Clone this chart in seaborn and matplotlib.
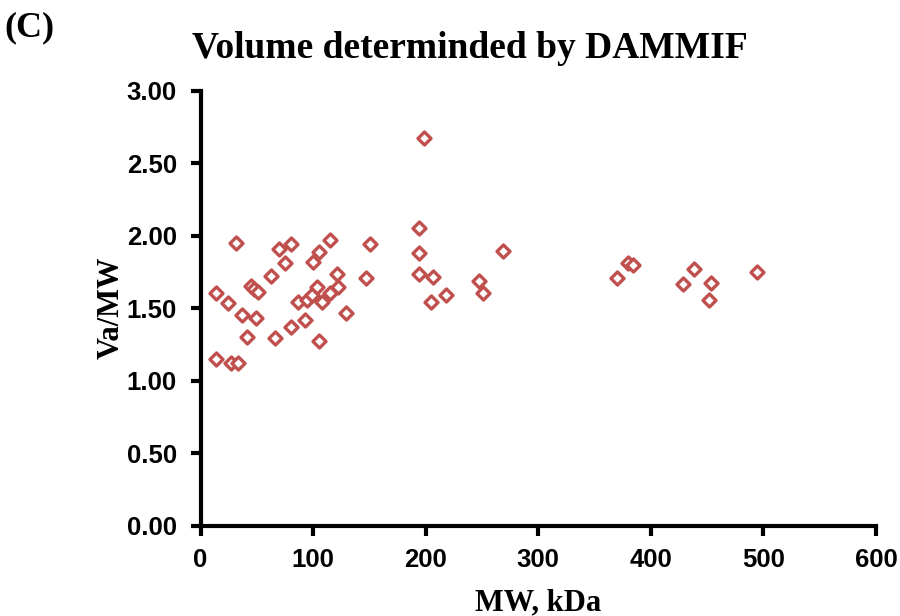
import matplotlib
matplotlib.use("Agg")
import matplotlib.pyplot as plt
import seaborn as sns
import pandas as pd

mw_kda = [13.8, 13.8, 24.2, 27.1, 31.3, 33.6, 36.6, 41.6, 44.8, 47.5,
          49.3, 51.3, 62.9, 65.9, 70.0, 75.0, 80.1, 80.1, 86.9, 92.8,
          94.3, 98.8, 99.6, 103.2, 105.2, 105.5, 107.6, 115.0, 115.3, 121.0,
          122.4, 129.2, 147.2, 150.8, 193.8, 194.1, 194.1, 198.5, 204.4, 206.7,
          218.0, 247.1, 250.6, 268.4, 369.6, 379.7, 384.1, 428.8, 438.5, 451.6,
          453.4, 494.0]
va_mw = [1.608, 1.150, 1.535, 1.120, 1.953, 1.120, 1.454, 1.304, 1.651, 1.630,
         1.435, 1.613, 1.723, 1.293, 1.907, 1.811, 1.373, 1.944, 1.541, 1.419,
         1.557, 1.592, 1.818, 1.649, 1.891, 1.274, 1.541, 1.608, 1.972, 1.737,
         1.645, 1.470, 1.707, 1.944, 2.052, 1.880, 1.735, 2.674, 1.541, 1.714,
         1.592, 1.691, 1.608, 1.898, 1.711, 1.813, 1.799, 1.668, 1.769, 1.557,
         1.677, 1.753]

x_ticks = [0, 100, 200, 300, 400, 500, 600]
y_ticks = [0.0, 0.5, 1.0, 1.5, 2.0, 2.5, 3.0]

df = pd.DataFrame({"MW": mw_kda, "VaMW": va_mw})

sns.set_style("white")
plt.rcParams['font.family'] = ['Liberation Sans', 'DejaVu Sans']
plt.rcParams['text.color'] = 'black'
plt.rcParams['axes.labelcolor'] = 'black'
plt.rcParams['xtick.color'] = 'black'
plt.rcParams['ytick.color'] = 'black'

fig = plt.figure(figsize=(9, 6.16), dpi=100)
ax = fig.add_axes([0.2228, 0.1469, 0.7505, 0.7054])

sns.scatterplot(data=df, x="MW", y="VaMW", ax=ax, marker="D", s=44,
                facecolor="white", edgecolor="#C0504D", linewidth=2.4,
                legend=False, zorder=3)

ax.set_xlim(0, 600)
ax.set_ylim(0, 3)
ax.set_xticks(x_ticks)
ax.set_yticks(y_ticks)
ax.set_xticklabels([str(v) for v in x_ticks], fontsize=18.5, fontweight="bold")
ax.set_yticklabels([f"{v:.2f}" for v in y_ticks], fontsize=18.5, fontweight="bold")

for s in ["top", "right"]:
    ax.spines[s].set_visible(False)
for s in ["left", "bottom"]:
    ax.spines[s].set_linewidth(3)
    ax.spines[s].set_color("black")
ax.tick_params(axis="both", direction="out", length=7, width=3, color="black",
               labelcolor="black", left=True, bottom=True)
ax.tick_params(axis="y", pad=10)
ax.tick_params(axis="x", pad=9)
ax.grid(False)

serif = ['Liberation Serif', 'DejaVu Serif']
ax.set_xlabel("MW, kDa", fontsize=22, fontweight="bold", family=serif,
              color="black")
ax.set_ylabel("Va/MW", fontsize=22, fontweight="bold", family=serif,
              color="black")
ax.xaxis.set_label_coords(0.4996, -0.178)
ax.yaxis.set_label_coords(-0.133, 0.5)
ax.yaxis.label.set_verticalalignment("center")
ax.xaxis.label.set_verticalalignment("center")
fig.text(0.522, 0.922, "Volume determinded by DAMMIF", ha="center", va="center",
         fontsize=27, fontweight="bold", family=serif, color="black")
fig.text(0.005, 0.955, "(C)", ha="left", va="center", fontsize=26,
         fontweight="bold", family=serif, color="black")

fig.savefig("out.png", dpi=100)
